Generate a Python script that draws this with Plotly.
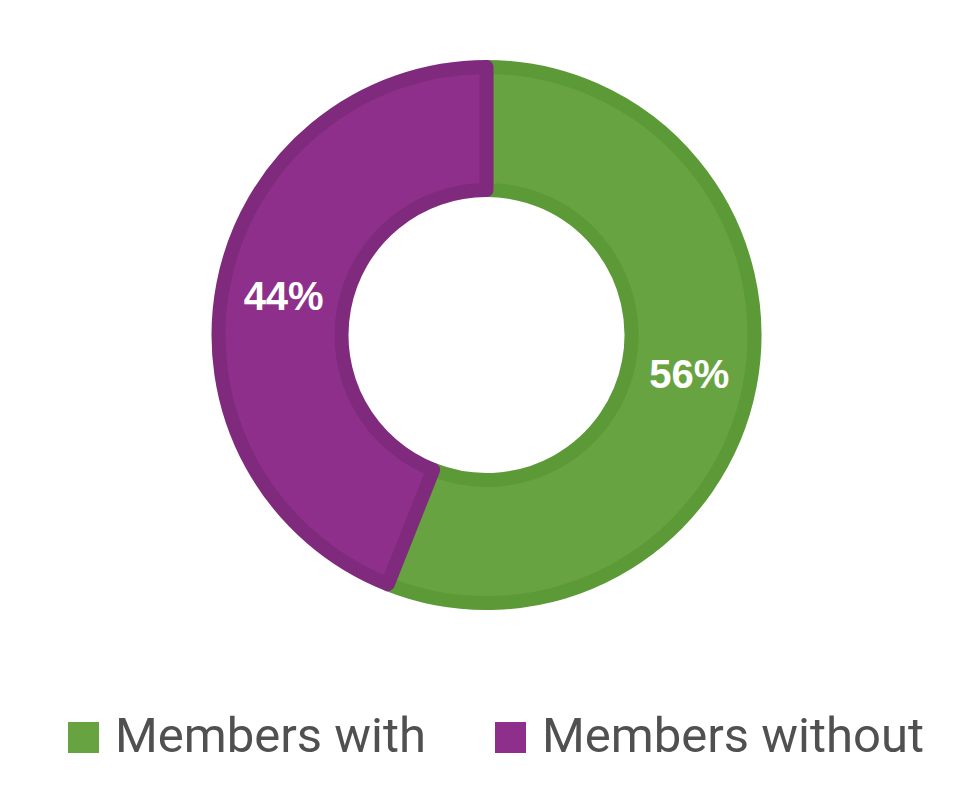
import plotly.graph_objects as go

labels = ["Members with", "Members without"]
values = [56, 44]
fill_colors = ["#67A441", "#8E308B"]
edge_colors = ["#5C9937", "#7F2A7D"]

W, H = 956, 788
OFF = 8                    # page body margin offset
cx, cy = 486.5 - OFF, 335 - OFF   # pixel centre of the ring (within figure)
r_path = 268               # path radius (stroke extends beyond)
stroke = 14

fig = go.Figure()
fig.add_trace(go.Pie(
    labels=labels,
    values=values,
    sort=False,
    direction="clockwise",
    rotation=0,
    hole=145 / r_path,
    marker=dict(colors=fill_colors, line=dict(color=edge_colors, width=stroke)),
    texttemplate="%{value}%",
    textposition="inside",
    insidetextorientation="horizontal",
    textfont=dict(family="Liberation Sans, Arial, sans-serif", size=40, color="white", weight="bold"),
    showlegend=False,
    hoverinfo="label+percent",
    domain=dict(
        x=[(cx - r_path) / W, (cx + r_path) / W],
        y=[(H - cy - r_path) / H, (H - cy + r_path) / H],
    ),
))

# Custom legend (large square swatches + labels)
legend_items = [(68 - OFF, 113 - OFF), (495 - OFF, 540 - OFF)]   # square left x, text left x
sq = 31
sq_top = 722 - OFF
shapes = []
annotations = []
for (sx, tx), lab, col in zip(legend_items, labels, fill_colors):
    shapes.append(dict(
        type="rect", xref="paper", yref="paper",
        x0=sx / W, x1=(sx + sq) / W,
        y0=(H - sq_top - sq) / H, y1=(H - sq_top) / H,
        fillcolor=col, line=dict(width=0),
    ))
    annotations.append(dict(
        text=lab, xref="paper", yref="paper",
        x=tx / W, y=(H - (sq_top + sq / 2 - 2)) / H,
        xanchor="left", yanchor="middle", showarrow=False,
        font=dict(family="Roboto, sans-serif", size=49, color="#505050"),
    ))

fig.update_layout(
    width=W, height=H,
    margin=dict(l=0, r=0, t=0, b=0),
    paper_bgcolor="white",
    plot_bgcolor="white",
    shapes=shapes,
    annotations=annotations,
)

fig.write_html("out.html")
